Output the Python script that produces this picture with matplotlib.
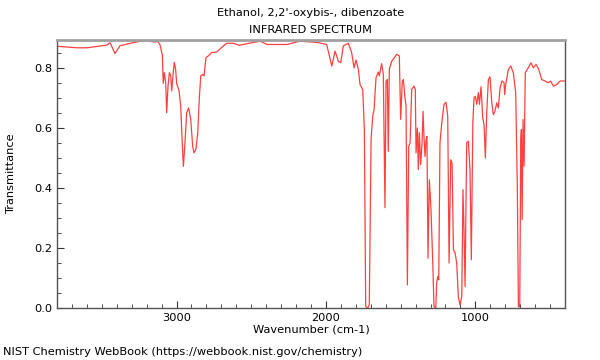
import numpy as np
import matplotlib
matplotlib.use('Agg')
import matplotlib.pyplot as plt
from matplotlib.ticker import MultipleLocator

# wavenumber (cm-1) and transmittance
wavenumber = [3800, 3666, 3599, 3465, 3445, 3412, 3378, 3291, 3198, 3178,
              3144, 3129, 3111, 3095, 3089, 3082, 3072, 3066, 3057, 3048,
              3039, 3032, 3024, 3015, 3006, 2999, 2983, 2972, 2963, 2954,
              2945, 2932, 2919, 2905, 2892, 2883, 2870, 2858, 2848, 2838,
              2825, 2816, 2803, 2787, 2765, 2731, 2698, 2664, 2620, 2580,
              2555, 2441, 2394, 2261, 2174, 2060, 1995, 1961, 1939, 1917,
              1901, 1884, 1850, 1828, 1812, 1799, 1783, 1772, 1754, 1743,
              1734, 1720, 1710, 1698, 1687, 1678, 1665, 1650, 1643, 1627,
              1616, 1605, 1598, 1589, 1583, 1576, 1560, 1526, 1509, 1500,
              1489, 1482, 1471, 1464, 1455, 1446, 1437, 1426, 1411, 1402,
              1397, 1388, 1382, 1375, 1366, 1357, 1350, 1344, 1337, 1330,
              1324, 1317, 1308, 1297, 1285, 1277, 1265, 1259, 1252, 1245,
              1237, 1225, 1210, 1196, 1185, 1176, 1165, 1156, 1147, 1136,
              1125, 1114, 1103, 1091, 1083, 1076, 1069, 1058, 1047, 1036,
              1027, 1017, 1009, 1000, 991, 980, 973, 962, 951, 942,
              933, 924, 913, 902, 890, 880, 869, 857, 846, 835,
              822, 808, 804, 797, 779, 763, 746, 730, 719, 712,
              703, 696, 692, 687, 681, 674, 666, 646, 628, 612,
              594, 576, 556, 534, 512, 496, 478, 455, 433, 400]
transmittance = [0.874, 0.869, 0.869, 0.878, 0.886, 0.850, 0.876, 0.886, 0.895, 0.891,
                 0.888, 0.891, 0.880, 0.845, 0.750, 0.786, 0.750, 0.652, 0.741, 0.786,
                 0.775, 0.725, 0.775, 0.820, 0.797, 0.750, 0.725, 0.674, 0.562, 0.473,
                 0.540, 0.652, 0.668, 0.630, 0.540, 0.518, 0.530, 0.585, 0.697, 0.775,
                 0.780, 0.775, 0.836, 0.842, 0.853, 0.855, 0.870, 0.884, 0.884, 0.877,
                 0.880, 0.891, 0.880, 0.880, 0.891, 0.887, 0.880, 0.808, 0.858, 0.824,
                 0.819, 0.875, 0.884, 0.853, 0.802, 0.828, 0.797, 0.746, 0.730, 0.596,
                 0.005, 0.000, 0.010, 0.562, 0.640, 0.663, 0.769, 0.788, 0.775, 0.816,
                 0.780, 0.335, 0.758, 0.763, 0.523, 0.797, 0.824, 0.847, 0.842, 0.630,
                 0.758, 0.763, 0.702, 0.674, 0.077, 0.540, 0.551, 0.730, 0.741, 0.730,
                 0.518, 0.601, 0.462, 0.585, 0.479, 0.551, 0.657, 0.573, 0.506, 0.562,
                 0.573, 0.166, 0.428, 0.328, 0.150, 0.005, 0.000, 0.083, 0.105, 0.094,
                 0.551, 0.618, 0.680, 0.687, 0.640, 0.150, 0.495, 0.484, 0.194, 0.185,
                 0.150, 0.038, 0.010, 0.038, 0.395, 0.261, 0.071, 0.551, 0.557, 0.462,
                 0.161, 0.618, 0.702, 0.707, 0.680, 0.719, 0.680, 0.739, 0.636, 0.613,
                 0.501, 0.652, 0.763, 0.772, 0.685, 0.646, 0.657, 0.685, 0.668, 0.735,
                 0.758, 0.752, 0.713, 0.746, 0.797, 0.808, 0.786, 0.719, 0.395, 0.004,
                 0.004, 0.562, 0.596, 0.295, 0.629, 0.473, 0.786, 0.802, 0.819, 0.802,
                 0.813, 0.797, 0.763, 0.758, 0.752, 0.758, 0.741, 0.746, 0.758, 0.758]

title_name = "Ethanol, 2,2'-oxybis-, dibenzoate"
title_kind = "INFRARED SPECTRUM"
x_label = "Wavenumber (cm-1)"
y_label = "Transmittance"
credit = "NIST Chemistry WebBook (https://webbook.nist.gov/chemistry)"

fs = 8.2

fig = plt.figure(figsize=(6, 3.6), dpi=100)
ax = fig.add_axes([0.095, 0.1445, 0.8467, 0.7444])

ax.plot(wavenumber, transmittance, color='red', lw=0.9, alpha=0.75)

ax.set_xlim(3800, 400)
ax.set_ylim(0, 0.895)
ax.xaxis.set_major_locator(MultipleLocator(1000))
ax.xaxis.set_minor_locator(MultipleLocator(100))
ax.yaxis.set_major_locator(MultipleLocator(0.2))
ax.yaxis.set_minor_locator(MultipleLocator(0.05))
ax.tick_params(which='both', direction='in', labelsize=fs, color='#333333')
ax.tick_params(which='major', length=5)
ax.tick_params(which='minor', length=3)

for side in ['left', 'bottom', 'right']:
    ax.spines[side].set_color('#555555')
    ax.spines[side].set_linewidth(1.0)
ax.spines['top'].set_color('#a0a0a0')
ax.spines['top'].set_linewidth(2.0)

ax.set_xlabel(x_label, fontsize=fs, labelpad=1)
ax.set_ylabel(y_label, fontsize=fs, labelpad=13)

fig.text(0.518, 0.963, title_name, ha='center', va='center', fontsize=fs)
fig.text(0.518, 0.916, title_kind, ha='center', va='center', fontsize=fs)
fig.text(0.005, 0.022, credit, ha='left', va='center', fontsize=fs)

fig.savefig('out.png', dpi=100)
